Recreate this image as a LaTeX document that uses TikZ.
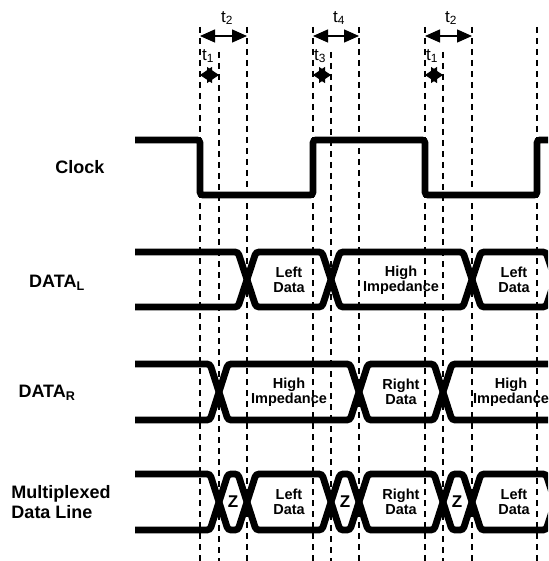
\documentclass[tikz,border=0pt]{standalone}
\usepackage{fontspec}
\setmainfont{Liberation Sans}
\usetikzlibrary{arrows.meta}

\tikzset{
  signal/.style={line width=6.8pt, rounded corners=3pt},
  guide/.style={line width=1.3pt, dash pattern=on 6pt off 5pt},
  spanbig/.style={line width=1.3pt, {Triangle[length=15pt,width=13pt]}-{Triangle[length=15pt,width=13pt]}},
  spansmall/.style={line width=1.3pt, {Triangle[length=12pt,width=16pt]}-{Triangle[length=12pt,width=16pt]}},
  rowname/.style={font=\fontsize{18}{20}\selectfont\bfseries, align=left, inner sep=0pt},
  field/.style={font=\fontsize{14.5}{15.5}\selectfont\bfseries, align=center, inner sep=0pt},
  zfield/.style={font=\fontsize{17}{18}\selectfont\bfseries, inner sep=0pt},
  tlabel/.style={font=\fontsize{17}{19}\selectfont, inner sep=0pt},
}

\begin{document}
\begin{tikzpicture}[x=1pt, y=-1pt]
    \useasboundingbox (0,0) rectangle (548,561);
    \clip (0,0) rectangle (548,561);
    % timing guides
    \foreach \x/\top [count=\i] in {200/27,219/52,247/27,313/27,331/52,359/27,425/27,443/52,472/27,537/27}{
        \coordinate (g\i) at (\x,\top);
        \draw[guide] (g\i) -- (\x,561);
    }
    \coordinate (wide) at (0,36);
    \coordinate (narrow) at (0,75);
    % t1 / t2 / t3 / t4
    \draw[spanbig] (g1 |- wide) -- (g3 |- wide);
    \draw[spanbig] (g4 |- wide) -- (g6 |- wide);
    \draw[spanbig] (g7 |- wide) -- (g9 |- wide);
    \draw[spansmall] (g1 |- narrow) -- (g2 |- narrow);
    \draw[spansmall] (g4 |- narrow) -- (g5 |- narrow);
    \draw[spansmall] (g7 |- narrow) -- (g8 |- narrow);
    \node[tlabel] (t2a) at (227,18) {t\textsubscript{2}};
    \node[tlabel] (t4) at (339,18) {t\textsubscript{4}};
    \node[tlabel] (t2b) at (451,18) {t\textsubscript{2}};
    \node[tlabel] (t1a) at (208,56) {t\textsubscript{1}};
    \node[tlabel] (t3) at (320,56) {t\textsubscript{3}};
    \node[tlabel] (t1b) at (432,56) {t\textsubscript{1}};
    % row names
    \node[rowname] (clk) at (80,167) {Clock};
    \node[rowname] (datl) at (57,283) {DATA\textsubscript{L}};
    \node[rowname] (datr) at (47,393) {DATA\textsubscript{R}};
    \node[rowname] (mux) at (61,502) {Multiplexed\\Data Line};
    % clock
    \draw[signal] (135,140) -- (200,140) -- (200,195) -- (313,195) -- (313,140)
        -- (425,140) -- (425,195) -- (537,195) -- (537,140) -- (560,140);
    % DATA_L
    \draw[signal] (135,252) -- (238,252) -- (256,307) -- (322,307) -- (340,252)
        -- (463,252) -- (481,307) -- (546,307) -- (564,252);
    \draw[signal] (135,307) -- (238,307) -- (256,252) -- (322,252) -- (340,307)
        -- (463,307) -- (481,252) -- (546,252) -- (564,307);
    \node[field] (ldl1) at (289,280) {Left\\Data};
    \node[field] (hil) at (401,280) {High\\Impedance};
    \node[field] (ldl2) at (514,280) {Left\\Data};
    % DATA_R
    \draw[signal] (135,364) -- (210,364) -- (228,420) -- (350,420) -- (368,364)
        -- (434,364) -- (452,420) -- (560,420);
    \draw[signal] (135,420) -- (210,420) -- (228,364) -- (350,364) -- (368,420)
        -- (434,420) -- (452,364) -- (560,364);
    \node[field] (hir1) at (289,392) {High\\Impedance};
    \node[field] (rdr) at (401,392) {Right\\Data};
    \node[field] (hir2) at (511,392) {High\\Impedance};
    % multiplexed line
    \draw[signal] (135,474) -- (210,474) -- (228,530) -- (238,530) -- (256,474)
        -- (322,474) -- (340,530) -- (350,530) -- (368,474) -- (434,474)
        -- (452,530) -- (463,530) -- (481,474) -- (546,474) -- (564,530);
    \draw[signal] (135,530) -- (210,530) -- (228,474) -- (238,474) -- (256,530)
        -- (322,530) -- (340,474) -- (350,474) -- (368,530) -- (434,530)
        -- (452,474) -- (463,474) -- (481,530) -- (546,530) -- (564,474);
    \node[zfield] (z1) at (233,502) {Z};
    \node[field] (ldm1) at (289,502) {Left\\Data};
    \node[zfield] (z2) at (345,502) {Z};
    \node[field] (rdm) at (401,502) {Right\\Data};
    \node[zfield] (z3) at (457,502) {Z};
    \node[field] (ldm2) at (514,502) {Left\\Data};
\end{tikzpicture}
\end{document}
